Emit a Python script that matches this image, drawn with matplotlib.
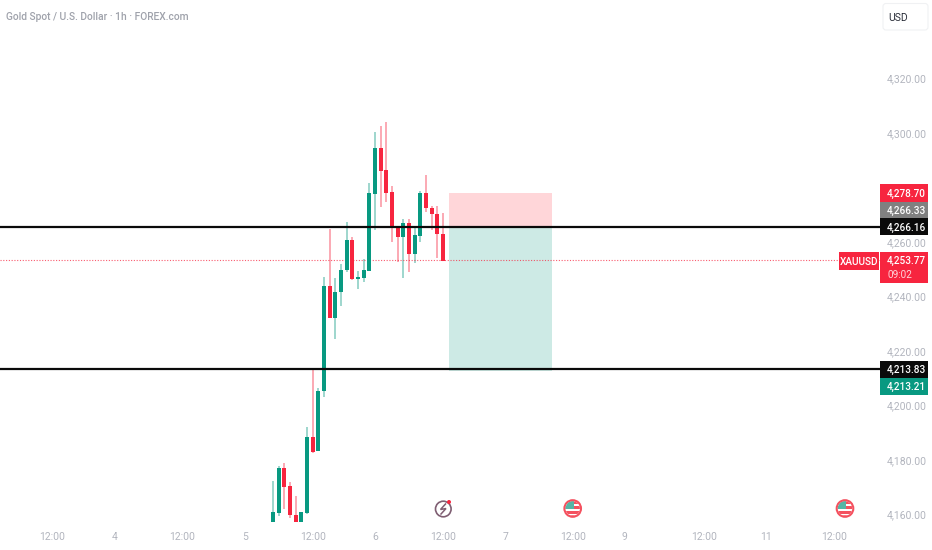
import matplotlib
matplotlib.use("Agg")
import matplotlib.pyplot as plt
from matplotlib.patches import Rectangle, Circle, FancyBboxPatch
from matplotlib.transforms import ScaledTranslation

plt.rcParams['font.family'] = ['Roboto', 'DejaVu Sans']

# Candles, oldest first (one per hour)
opens  = [4157.8,4161.2,4177.5,4170.9,4160.4,4157.8,4161.2,4189.0,4183.9,4205.9,4244.4,4232.8,4242.2,4250.2,4261.2,4247.0,
          4247.5,4249.8,4278.3,4295.2,4286.8,4278.8,4266.4,4262.4,4267.4,4256.3,4262.9,4278.5,4273.1,4270.9,4263.4]
closes = [4161.5,4177.5,4170.8,4160.3,4157.8,4161.4,4189.0,4183.6,4205.9,4244.4,4232.8,4242.3,4250.3,4261.2,4247.0,4247.7,
          4250.2,4278.4,4295.2,4286.7,4278.6,4265.9,4262.4,4267.4,4256.3,4263.0,4278.5,4273.1,4270.9,4263.4,4253.7]
highs  = [4172.8,4178.5,4179.3,4172.6,4167.3,4161.6,4192.8,4213.8,4206.9,4247.7,4265.3,4247.5,4252.5,4267.8,4262.4,4249.8,
          4254.3,4282.2,4300.8,4303.1,4304.5,4281.2,4266.4,4269.0,4268.9,4265.6,4279.1,4285.1,4273.9,4273.6,4271.3]
lows   = [4157.8,4160.1,4162.5,4159.2,4157.8,4157.5,4160.8,4183.2,4183.9,4203.8,4232.6,4225.0,4237.0,4249.5,4246.6,4243.3,
          4246.0,4249.8,4264.8,4273.4,4275.2,4260.7,4253.2,4247.5,4249.7,4253.0,4260.7,4271.6,4265.1,4254.6,4253.6]

y_ticks = [4160, 4180, 4200, 4220, 4240, 4260, 4300, 4320]
x_tick_bars = [-39, -28, -16, -5, 7, 18, 30, 41, 53, 62, 76, 87, 99]
x_tick_labels = ['12:00', '4', '12:00', '5', '12:00', '6', '12:00', '7', '12:00', '9', '12:00', '11', '12:00']

last_price = 4253.77
level_upper = 4266.16
level_lower = 4213.83
trade_entry = 4266.33
trade_stop = 4278.70
trade_target = 4213.21
trade_start_bar = 31.05
trade_end_bar = 49.2

GREEN = '#089981'
RED = '#f7253f'
TICK = '#b2b5be'
FS = 7.5
TAG_FS = 7.2

W, H = 932, 550
fig = plt.figure(figsize=(W / 100, H / 100), dpi=100, facecolor='white')

AX_R, AX_B = 880, 522
ax = fig.add_axes([0, 1 - AX_B / H, AX_R / W, AX_B / H])
ax.set_xlim(-48.17, 107.1)
ax.set_ylim(4157.8, 4349.36)
for s in ax.spines.values():
    s.set_visible(False)

# trade box
ax.add_patch(Rectangle((trade_start_bar, trade_entry), trade_end_bar - trade_start_bar,
                       trade_stop - trade_entry, fc='#ffd6d9', ec='none', zorder=1))
ax.add_patch(Rectangle((trade_start_bar, trade_target), trade_end_bar - trade_start_bar,
                       trade_entry - trade_target, fc='#cdeae5', ec='none', zorder=1))

# candles
bars = range(len(opens))
colors = [GREEN if c >= o else RED for o, c in zip(opens, closes)]
ax.vlines(bars, lows, highs, colors=colors, linewidth=1.1, alpha=0.5, zorder=2)
ax.bar(bars, [abs(c - o) for o, c in zip(opens, closes)], bottom=[min(o, c) for o, c in zip(opens, closes)],
       width=0.68, color=colors, linewidth=0, zorder=3)

# levels
ax.axhline(last_price, color=RED, lw=0.8, ls=(0, (1, 1.5)), alpha=0.75, zorder=2)
ax.axhline(level_upper, color='#0a0a0a', lw=1.6, zorder=4)
ax.axhline(level_lower, color='#0a0a0a', lw=1.6, zorder=4)

ax.yaxis.tick_right()
ax.set_yticks(y_ticks)
ax.set_yticklabels([f'{v:,.2f}' for v in y_ticks], va='center_baseline')
ax.set_xticks(x_tick_bars)
ax.set_xticklabels(x_tick_labels)
ax.tick_params(axis='y', length=0, pad=5, labelsize=FS, labelcolor=TICK)
ax.tick_params(axis='x', length=0, pad=7, labelsize=FS, labelcolor=TICK)
lift = ScaledTranslation(0, 1.5 / 100, fig.dpi_scale_trans)
for lab in ax.get_yticklabels():
    lab.set_transform(lab.get_transform() + lift)

# overlay in pixel coordinates for chrome
ov = fig.add_axes([0, 0, 1, 1], zorder=10)
ov.set_xlim(0, W)
ov.set_ylim(H, 0)
ov.axis('off')
ov.patch.set_alpha(0)

def tag(x0, x1, y0, y1, color, text, extra=None, centre=False):
    ov.add_patch(Rectangle((x0, y0), x1 - x0, y1 - y0, fc=color, ec='none'))
    tx, ha = ((x0 + x1) / 2, 'center') if centre else (x0 + 7, 'left')
    ty = y0 + 8.7 if extra else (y0 + y1) / 2
    ov.text(tx, ty, text, color='white', fontsize=TAG_FS, fontweight='medium', ha=ha, va='center_baseline')
    if extra:
        ov.text(x0 + 7, y0 + 22.5, extra, color='#ffd5da', fontsize=TAG_FS, ha='left', va='center_baseline')

tag(880, 928, 183.7, 201.5, RED, f'{trade_stop:,.2f}')
tag(880, 928, 201.5, 218, '#808080', f'{trade_entry:,.2f}')
tag(880, 928, 218, 235, '#0a0a0a', f'{level_upper:,.2f}')
tag(880, 928, 251.7, 282.7, RED, f'{last_price:,.2f}', extra='09:02')
tag(839, 879, 251.7, 270, RED, 'XAUUSD', centre=True)
tag(880, 928, 360.5, 377.7, '#0a0a0a', f'{level_lower:,.2f}')
tag(880, 928, 377.7, 394.5, GREEN, f'{trade_target:,.2f}')

ov.text(6, 16, 'Gold Spot / U.S. Dollar · 1h · FOREX.com', color='#9fa2ab', fontsize=7.4, fontweight='medium',
        ha='left', va='center_baseline')
ov.add_patch(FancyBboxPatch((883, 3.5), 45, 26.5, boxstyle='round,pad=0,rounding_size=3', fc='white', ec='#f0f1f3', lw=0.8))
ov.text(898, 16.7, 'USD', color='#2a2e39', fontsize=FS, ha='center', va='center_baseline')

# event icons
ov.add_patch(Circle((443.3, 509), 7.8, fc='white', ec='#7f5e72', lw=1.2))
ov.plot([445.5, 440.5, 446, 441], [504, 509.5, 508.5, 514], color='#7f5e72', lw=1.1, solid_joinstyle='miter')
ov.add_patch(Circle((449, 502), 2, fc=RED, ec='none'))

def flag(cx, cy=508.5):
    clip = Circle((cx, cy), 7.2, transform=ov.transData)
    ov.add_patch(Circle((cx, cy), 8.3, fc='white', ec='#f4515f', lw=1.5))
    for (yy, hh, col) in [(cy - 7.5, 2.5, '#f4515f'), (cy - 2.5, 2.5, '#f4515f'), (cy + 2.5, 2.5, '#f4515f'), (cy + 6, 2, '#f4515f')]:
        r = Rectangle((cx - 8, yy), 16, hh, fc=col, ec='none')
        ov.add_patch(r)
        r.set_clip_path(clip)
    r = Rectangle((cx - 8, cy - 8), 9, 8.5, fc='#55b5a6', ec='none')
    ov.add_patch(r)
    r.set_clip_path(clip)

flag(572.7)
flag(845)

fig.savefig('out.png', dpi=100, facecolor='white')
